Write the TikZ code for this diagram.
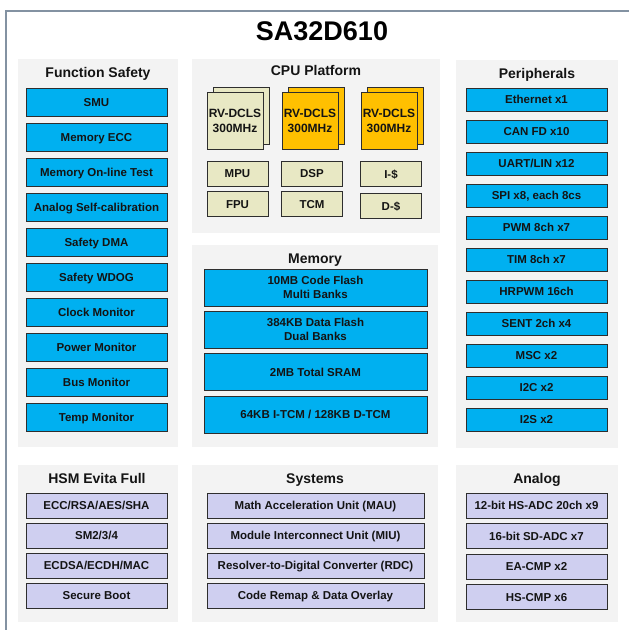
\documentclass[tikz,border=0pt]{standalone}
\usepackage{fontspec}
\setmainfont{Liberation Sans}
\definecolor{blueb}{HTML}{00B0F0}
\definecolor{lav}{HTML}{CFCFF0}
\definecolor{pale}{HTML}{E8E8C4}
\definecolor{orng}{HTML}{FFC000}
\definecolor{panelc}{HTML}{F3F3F3}
\definecolor{framec}{HTML}{8392A2}
\definecolor{edgec}{HTML}{2E2E2E}
\begin{document}
\begin{tikzpicture}[x=1pt,y=-1pt,
  box/.style={draw=edgec, line width=1pt, inner sep=0pt,
    font=\fontsize{11.5}{13.5}\selectfont\bfseries, text=black!92},
  onebox/.style={box, text height=8.2pt, text depth=0pt},
  fsbox/.style={onebox, fill=blueb, minimum width=141pt, minimum height=28pt},
  perbox/.style={onebox, fill=blueb, minimum width=141pt, minimum height=23pt},
  membox/.style={box, align=center, fill=blueb, minimum width=223pt, minimum height=37pt},
  memone/.style={onebox, fill=blueb, minimum width=223pt, minimum height=37pt},
  hsmbox/.style={onebox, fill=lav, minimum width=141pt, minimum height=25pt},
  sysbox/.style={onebox, fill=lav, minimum width=217pt, minimum height=25pt},
  corebox/.style={box, align=center, minimum width=56pt, minimum height=57pt, font=\fontsize{12}{15}\selectfont\bfseries},
  smallbox/.style={onebox, fill=pale, minimum width=61pt, minimum height=25pt},
  paneltitle/.style={inner sep=0pt, text height=10pt, text depth=0pt, font=\fontsize{14}{16}\selectfont\bfseries, text=black!92},
  panelbg/.style={fill=panelc, draw=none}
]
\useasboundingbox (0,0) rectangle (629,630);
\fill[white] (0,0) rectangle (629,630);
\begin{scope}
\clip (0,0) rectangle (629,630);
\draw[framec, line width=1.6pt] (6,11) rectangle (660,660);
\end{scope}
\node[inner sep=0pt, text height=19.3pt, text depth=0pt, font=\fontsize{27}{30}\selectfont\bfseries] (title) at (322,30.7) {SA32D610};

% panels
\fill[panelbg] (18,59) rectangle (178,447);
\fill[panelbg] (192,59) rectangle (440,233);
\fill[panelbg] (192,245) rectangle (438,447);
\fill[panelbg] (456,60) rectangle (618,448);
\fill[panelbg] (18,465) rectangle (178,622);
\fill[panelbg] (192,465) rectangle (438,622);
\fill[panelbg] (456,465) rectangle (618,622);

% Function Safety
\node[paneltitle] (fst) at (98,72) {Function Safety};
\node[fsbox] (fs1) at (96.5,102) {SMU};
\node[fsbox] (fs2) at (96.5,137) {Memory ECC};
\node[fsbox] (fs3) at (96.5,172) {Memory On-line Test};
\node[fsbox] (fs4) at (96.5,207) {Analog Self-calibration};
\node[fsbox] (fs5) at (96.5,242) {Safety DMA};
\node[fsbox] (fs6) at (96.5,277) {Safety WDOG};
\node[fsbox] (fs7) at (96.5,312) {Clock Monitor};
\node[fsbox] (fs8) at (96.5,347) {Power Monitor};
\node[fsbox] (fs9) at (96.5,382) {Bus Monitor};
\node[fsbox] (fs10) at (96.5,417) {Temp Monitor};

% CPU Platform
\node[paneltitle] (cput) at (316,70) {CPU Platform};
\node[corebox, fill=pale] (c1b) at (241,115.5) {};
\node[corebox, fill=pale] (c1) at (235,120.5) {RV-DCLS\\300MHz};
\node[corebox, fill=orng] (c2b) at (316,115.5) {};
\node[corebox, fill=orng] (c2) at (310,120.5) {RV-DCLS\\300MHz};
\node[corebox, fill=orng] (c3b) at (395,115.5) {};
\node[corebox, fill=orng] (c3) at (389,120.5) {RV-DCLS\\300MHz};
\node[smallbox] (mpu) at (237.5,173.5) {MPU};
\node[smallbox] (fpu) at (237.5,204) {FPU};
\node[smallbox] (dsp) at (312,173.5) {DSP};
\node[smallbox] (tcm) at (312,204) {TCM};
\node[smallbox] (ic) at (391,174) {I-\$};
\node[smallbox] (dc) at (391,206) {D-\$};

% Memory
\node[paneltitle] (memt) at (315,258) {Memory};
\node[membox] (m1) at (315.5,287.5) {10MB Code Flash\\Multi Banks};
\node[membox] (m2) at (315.5,329.5) {384KB Data Flash\\Dual Banks};
\node[memone] (m3) at (315.5,372) {2MB Total SRAM};
\node[memone] (m4) at (315.5,414.5) {64KB I-TCM / 128KB D-TCM};

% Peripherals
\node[paneltitle] (pert) at (537,73) {Peripherals};
\node[perbox] (p1) at (536.5,99.5) {Ethernet x1};
\node[perbox] (p2) at (536.5,131.5) {CAN FD x10};
\node[perbox] (p3) at (536.5,163.5) {UART/LIN x12};
\node[perbox] (p4) at (536.5,195.5) {SPI x8, each 8cs};
\node[perbox] (p5) at (536.5,227.5) {PWM 8ch x7};
\node[perbox] (p6) at (536.5,259.5) {TIM 8ch x7};
\node[perbox] (p7) at (536.5,291.5) {HRPWM 16ch};
\node[perbox] (p8) at (536.5,323.5) {SENT 2ch x4};
\node[perbox] (p9) at (536.5,355.5) {MSC x2};
\node[perbox] (p10) at (536.5,387.5) {I2C x2};
\node[perbox] (p11) at (536.5,419.5) {I2S x2};

% HSM
\node[paneltitle] (hsmt) at (97,478) {HSM Evita Full};
\node[hsmbox] (h1) at (96.5,505.5) {ECC/RSA/AES/SHA};
\node[hsmbox] (h2) at (96.5,535.5) {SM2/3/4};
\node[hsmbox] (h3) at (96.5,565.5) {ECDSA/ECDH/MAC};
\node[hsmbox] (h4) at (96.5,595.5) {Secure Boot};

% Systems
\node[paneltitle] (syst) at (315,478) {Systems};
\node[sysbox] (s1) at (315.5,505.5) {Math Acceleration Unit (MAU)};
\node[sysbox] (s2) at (315.5,535.5) {Module Interconnect Unit (MIU)};
\node[sysbox] (s3) at (315.5,565.5) {Resolver-to-Digital Converter (RDC)};
\node[sysbox] (s4) at (315.5,595.5) {Code Remap \& Data Overlay};

% Analog
\node[paneltitle] (ant) at (537,478) {Analog};
\node[hsmbox] (a1) at (536.5,505.5) {12-bit HS-ADC 20ch x9};
\node[hsmbox] (a2) at (536.5,536) {16-bit SD-ADC x7};
\node[hsmbox] (a3) at (536.5,566.5) {EA-CMP x2};
\node[hsmbox] (a4) at (536.5,597) {HS-CMP x6};
\end{tikzpicture}
\end{document}
